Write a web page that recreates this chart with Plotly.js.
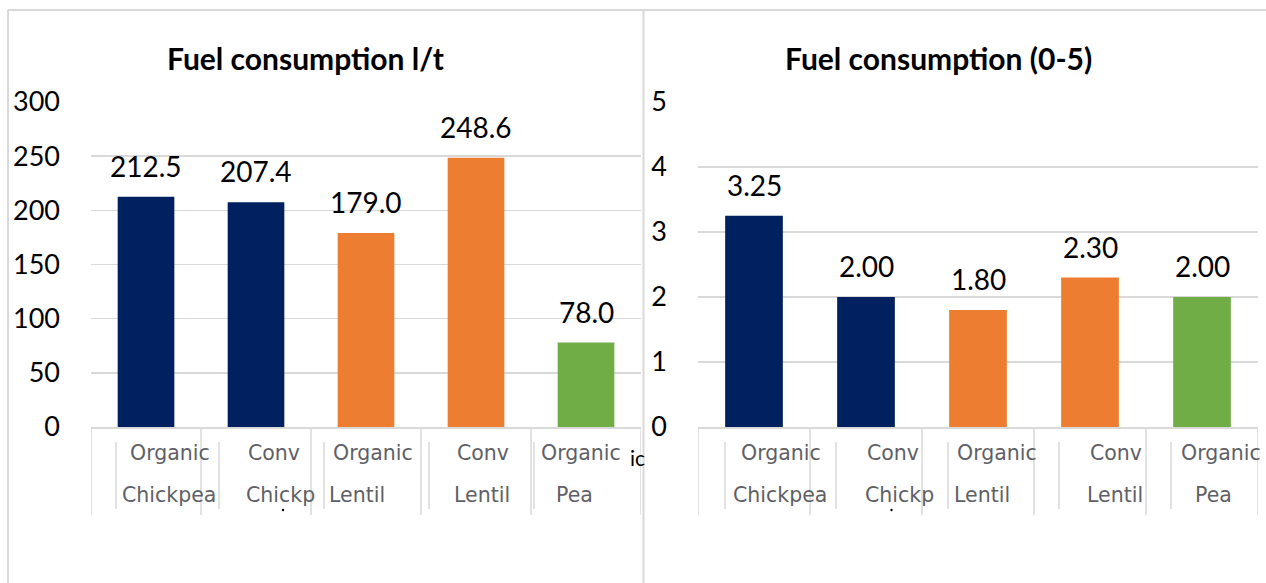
<!DOCTYPE html>
<html><head><meta charset="utf-8">
<script src="https://cdn.plot.ly/plotly-3.0.1.min.js"></script>
<style>html,body{margin:0;padding:0;background:#fff;overflow:hidden;} #chart{width:1266px;height:583px;}</style>
</head><body><div id="chart"></div>
<script>
// ---- data ----
const categories = ['Organic Chickpea','Conv Chickpea','Organic Lentil','Conv Lentil','Organic Pea'];
const labelLine1 = ['Organic','Conv','Organic','Conv','Organic'];
const labelLine2 = ['Chickpea','Chickp','Lentil','Lentil','Pea'];
const fuelLitresPerTonne = [212.5, 207.4, 179.0, 248.6, 78.0];
const fuelScore = [3.25, 2.00, 1.80, 2.30, 2.00];
const barColors = ['#002060','#002060','#ED7D31','#ED7D31','#70AD47'];
const leftTicks = [0,50,100,150,200,250,300];
const rightTicks = [0,1,2,3,4,5];
const titles = ['Fuel consumption l/t','Fuel consumption (0-5)'];

// ---- layout helpers ----
const W = 1266, H = 583;
const px = x => x / W, py = y => (H - y) / H;
const grid = '#d9d9d9';
const numFont = {family: 'Lato, "Open Sans", sans-serif', size: 28, color: '#000'};
const tickFont = {family: 'Lato, "Open Sans", sans-serif', size: 27, color: '#000'};
const catFont = {family: 'DejaVu Sans, sans-serif', size: 20.5, color: '#5f5f66'};

const panels = [
  {x: 'x', y: 'y', vals: fuelLitresPerTonne, dec: 1, off1: [23.5,17.5,6.5,7,-5], off2: [22.5,24.5,-9.5,5.5,-12],
   shortLines: [-0.273,0.664,1.618,2.573,3.527], titleX: 305},
  {x: 'x2', y: 'y2', vals: fuelScore, dec: 2, off1: [26.5,26.5,19,26,19], off2: [26,33,4,25,11],
   shortLines: [-0.259,0.732,1.732,2.723,3.723], titleX: 938}
];

const idx = categories.map((c, i) => i);
const traces = panels.map(p => ({
  type: 'bar', x: idx, y: p.vals, xaxis: p.x, yaxis: p.y,
  marker: {color: barColors}, width: 0.515, hoverinfo: 'skip'
}));

const annotations = [];
const shapes = [];
panels.forEach((p, k) => {
  p.vals.forEach((v, i) => {
    annotations.push({xref: p.x, yref: p.y, x: i, y: v, text: v.toFixed(p.dec), showarrow: false,
      yanchor: 'bottom', yshift: 12, font: numFont});
    annotations.push({xref: p.x, yref: 'paper', x: i, y: py(453), xshift: p.off1[i], text: labelLine1[i],
      showarrow: false, yanchor: 'middle', font: catFont});
    annotations.push({xref: p.x, yref: 'paper', x: i, y: py(495), xshift: p.off2[i], text: labelLine2[i],
      showarrow: false, yanchor: 'middle', font: catFont});
  });
  annotations.push({xref: 'paper', yref: 'paper', x: px(p.titleX), y: py(58), text: '<b>' + titles[k] + '</b>',
    showarrow: false, xanchor: 'center', yanchor: 'middle',
    font: {family: 'Lato, "Open Sans", sans-serif', size: 30, color: '#000'}});
  for (let b = -0.5; b <= 4.5; b += 1) {
    shapes.push({type: 'line', xref: p.x, yref: 'paper', x0: b, x1: b, y0: py(427), y1: py(515),
      line: {color: grid, width: 1.5}});
  }
  p.shortLines.forEach(s => shapes.push({type: 'line', xref: p.x, yref: 'paper', x0: s, x1: s,
    y0: py(442), y1: py(509), line: {color: grid, width: 1.5}}));
});
annotations.push({xref: 'paper', yref: 'paper', x: px(637), y: py(457), text: 'ic', showarrow: false,
  xanchor: 'center', yanchor: 'middle', font: {family: 'Lato, sans-serif', size: 21, color: '#000'}});
// frame lines
shapes.push({type: 'line', xref: 'paper', yref: 'paper', x0: px(8), x1: 1, y0: py(10), y1: py(10), line: {color: grid, width: 2}});
shapes.push({type: 'line', xref: 'paper', yref: 'paper', x0: px(8), x1: px(8), y0: py(10), y1: 0, line: {color: grid, width: 2}});
shapes.push({type: 'line', xref: 'paper', yref: 'paper', x0: px(643.5), x1: px(643.5), y0: py(10), y1: 0, line: {color: grid, width: 2}});
// small dots
[283, 891.5].forEach(d => shapes.push({type: 'circle', xref: 'paper', yref: 'paper',
  x0: px(d - 1.2), x1: px(d + 1.2), y0: py(511.2), y1: py(508.8), fillcolor: '#000', line: {width: 0}}));

const yDomain = [py(427), py(102)];
const xCommon = {type: 'linear', range: [-0.5, 4.5], showticklabels: false, showgrid: false, zeroline: false,
  showline: true, linecolor: grid, linewidth: 1.5, ticks: '', fixedrange: true};
const yCommon = {showgrid: true, gridcolor: grid, gridwidth: 1.5, zeroline: false, showline: false,
  ticks: '', ticklabelstandoff: 30, tickfont: tickFont, fixedrange: true, domain: yDomain};

const layout = {
  width: W, height: H, margin: {l: 0, r: 0, t: 0, b: 0}, showlegend: false,
  paper_bgcolor: '#fff', plot_bgcolor: '#fff',
  xaxis: Object.assign({}, xCommon, {domain: [px(91), px(641)], anchor: 'y'}),
  xaxis2: Object.assign({}, xCommon, {domain: [px(698), px(1258)], anchor: 'y2'}),
  yaxis: Object.assign({}, yCommon, {range: [0, 300], tickvals: leftTicks, anchor: 'x'}),
  yaxis2: Object.assign({}, yCommon, {range: [0, 5], tickvals: rightTicks, anchor: 'x2'}),
  annotations: annotations, shapes: shapes
};

Plotly.newPlot('chart', traces, layout, {displayModeBar: false, staticPlot: true});
</script>
</body></html>
